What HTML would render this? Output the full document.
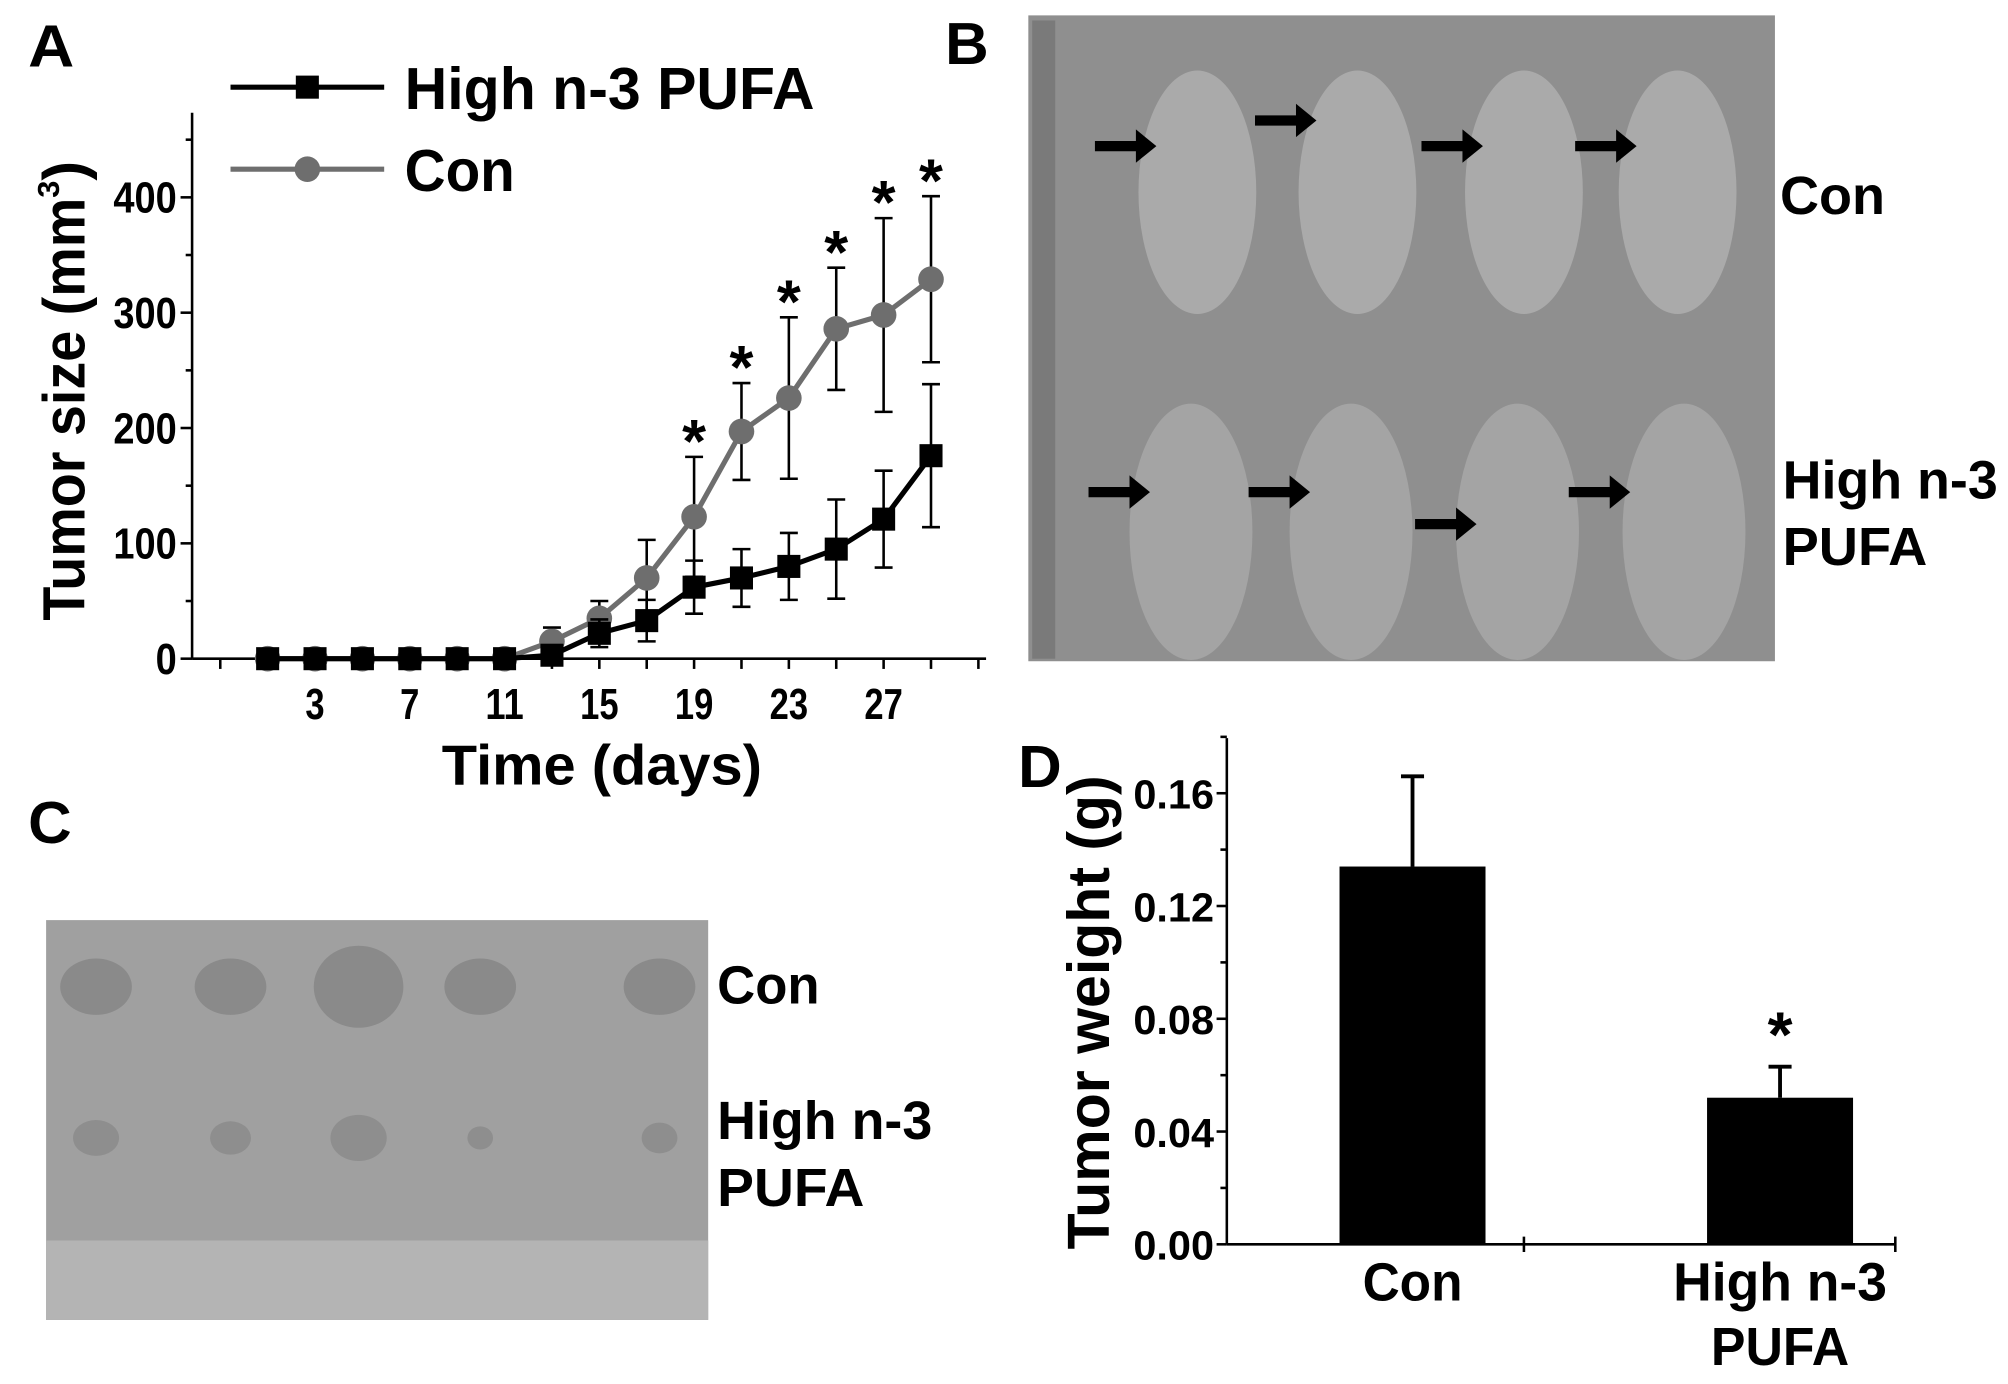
<!DOCTYPE html>
<html><head><meta charset="utf-8"><style>
html,body{margin:0;padding:0;background:#fff;}
svg{display:block;}
text{font-family:"Liberation Sans Narrow","Liberation Sans",sans-serif;font-weight:bold;fill:#000;}
</style></head><body>
<svg id="fig" width="2008" height="1384" viewBox="0 0 1568 1080" preserveAspectRatio="none" xmlns="http://www.w3.org/2000/svg">
<g id="panelA"></g>
<g id="panelB">
  <rect x="803" y="12" width="583" height="504" fill="#8f8f8f"/>
  <rect x="806" y="16" width="18" height="498" fill="#7a7a7a"/>
</g>
<g id="panelC">
  <rect x="36" y="718" width="517" height="312" fill="#a0a0a0"/>
  <rect x="36" y="968" width="517" height="62" fill="#b4b4b4"/>
</g>
<g id="panelD"></g>
<text x="22" y="52" font-size="46" textLength="36" lengthAdjust="spacingAndGlyphs">A</text>
<text x="738" y="50" font-size="46" textLength="34" lengthAdjust="spacingAndGlyphs">B</text>
<text x="22" y="658" font-size="46" textLength="34" lengthAdjust="spacingAndGlyphs">C</text>
<text x="795" y="614" font-size="46" textLength="34" lengthAdjust="spacingAndGlyphs">D</text>
<text x="1390" y="167" font-size="42" textLength="82" lengthAdjust="spacingAndGlyphs">Con</text>
<text x="1392" y="389" font-size="42" textLength="168" lengthAdjust="spacingAndGlyphs">High n-3</text>
<text x="1392" y="441" font-size="42" textLength="113" lengthAdjust="spacingAndGlyphs">PUFA</text>
<text x="560" y="783" font-size="42" textLength="80" lengthAdjust="spacingAndGlyphs">Con</text>
<text x="560" y="889" font-size="42" textLength="168" lengthAdjust="spacingAndGlyphs">High n-3</text>
<text x="560" y="941" font-size="42" textLength="115" lengthAdjust="spacingAndGlyphs">PUFA</text>
</svg>
<script>
// ---- Panel A data ----
const days = [1,3,5,7,9,11,13,15,17,19,21,23,25,27,29];
const conValues = [0,0,0,0,0,0,15,35,70,123,197,226,286,298,329];
const conErrors = [0,0,0,0,0,0,12,15,33,52,42,70,53,84,72];
const highValues = [0,0,0,0,0,0,3,22,33,62,70,80,95,121,176];
const highErrors = [0,0,0,0,0,0,5,12,18,23,25,29,43,42,62];
const starDays = [19,21,23,25,27,29];
const xTickLabels = [3,7,11,15,19,23,27];
const yTickLabels = [0,100,200,300,400];
// ---- Panel D data ----
const barCategories = ["Con","High n-3 PUFA"];
const barValues = [0.134,0.052];
const barErrors = [0.032,0.011];
const barTicks = [0.00,0.04,0.08,0.12,0.16];

const NS="http://www.w3.org/2000/svg";
function mk(parent,tag,attrs,txt){const e=document.createElementNS(NS,tag);for(const k in attrs)e.setAttribute(k,attrs[k]);if(txt!==undefined)e.textContent=txt;parent.appendChild(e);return e;}
const LA='spacingAndGlyphs';

// Panel A
const A=document.getElementById('panelA');
const xA=d=>246+(d-3)*18.5;
const yA=v=>514-v*0.9;
let e;
e=mk(A,'line',{x1:150,y1:88,x2:150,y2:514,stroke:'#000','stroke-width':2});
 
e=mk(A,'line',{x1:150,y1:514,x2:770,y2:514,stroke:'#000','stroke-width':2});
 
for(let d=-1;d<=31;d+=2){e=mk(A,'line',{x1:xA(d),y1:514,x2:xA(d),y2:522,stroke:'#000','stroke-width':2});
 }
for(let v=0;v<=450;v+=50){e=mk(A,'line',{x1:150,y1:yA(v),x2:v%100==0?141:145,y2:yA(v),stroke:'#000','stroke-width':2});
 }
xTickLabels.forEach(t=>{const s=String(t);e=mk(A,'text',{x:xA(t),y:561,'font-size':34,'text-anchor':'middle',textLength:s.length*15,lengthAdjust:LA},s);
 });
yTickLabels.forEach(t=>{const s=String(t);e=mk(A,'text',{x:138,y:yA(t)+12,'font-size':34,'text-anchor':'end',textLength:s.length*16.5,lengthAdjust:LA},s);
 });
e=mk(A,'text',{x:470,y:612,'font-size':44,'text-anchor':'middle',textLength:250,lengthAdjust:LA},'Time (days)');
 
e=mk(A,'text',{x:0,y:0,'font-size':46,'text-anchor':'middle',transform:'translate(66,305) rotate(-90)'});
 
e.innerHTML='<tspan textLength="330" lengthAdjust="spacingAndGlyphs">Tumor size (mm</tspan><tspan dy="-20" font-size="24">3</tspan><tspan dy="20">)</tspan>';
function series(vals,errs,color,shape,name){
  const g=mk(A,'g',{});
   
  days.forEach((d,i)=>{if(errs[i]>0){const x=xA(d),y1=yA(vals[i]+errs[i]),y2=yA(vals[i]-errs[i]);
    e=mk(g,'path',{d:`M${x},${y1}V${y2}M${x-7},${y1}H${x+7}M${x-7},${y2}H${x+7}`,stroke:'#000','stroke-width':2,fill:'none'});
     }});
  e=mk(g,'polyline',{points:days.map((d,i)=>xA(d)+','+yA(vals[i])).join(' '),stroke:color,'stroke-width':4,fill:'none'});
   
  days.forEach((d,i)=>{
    if(shape==='sq') e=mk(g,'rect',{x:xA(d)-9,y:yA(vals[i])-9,width:18,height:18,fill:color});
    else e=mk(g,'circle',{cx:xA(d),cy:yA(vals[i]),r:10,fill:color});
     });
}
series(conValues,conErrors,'#6e6e6e','ci','con-series');
series(highValues,highErrors,'#000','sq','high-n3-series');
starDays.forEach(d=>{const i=days.indexOf(d);
  e=mk(A,'text',{x:xA(d),y:yA(conValues[i]+conErrors[i])+4,'font-size':48,'text-anchor':'middle'},'*');
   });
// legend
e=mk(A,'line',{x1:180,y1:68,x2:300,y2:68,stroke:'#000','stroke-width':4});
 
e=mk(A,'rect',{x:231,y:59,width:18,height:18,fill:'#000'});
 
e=mk(A,'text',{x:316,y:85,'font-size':46,textLength:320,lengthAdjust:LA},'High n-3 PUFA');
 
e=mk(A,'line',{x1:180,y1:132,x2:300,y2:132,stroke:'#6e6e6e','stroke-width':4});
 
e=mk(A,'circle',{cx:240,cy:132,r:10,fill:'#6e6e6e'});
 
e=mk(A,'text',{x:316,y:149,'font-size':46,textLength:86,lengthAdjust:LA},'Con');
 

// Panel B mice (decorative)
const B=document.getElementById('panelB');
const miceX=[935,1060,1190,1310];
miceX.forEach((x,i)=>{
  e=mk(B,'ellipse',{cx:x,cy:150,rx:46,ry:95,fill:'#aaaaaa'});
   
  e=mk(B,'ellipse',{cx:x-5+(i==3?10:0),cy:415,rx:48,ry:100,fill:'#a4a4a4'});
   
  [[x-80,110+(i==1?-20:0)],[x-85,380+(i==2?25:0)]].forEach(p=>{
    e=mk(B,'path',{d:`M${p[0]},${p[1]}h32v-9l16,13l-16,13v-9h-32z`,fill:'#000'});
     });
});
// Panel C tumors
const C=document.getElementById('panelC');
[75,180,280,375,515].forEach((x,i)=>{
  e=mk(C,'ellipse',{cx:x,cy:770,rx:i==2?35:28,ry:i==2?32:22,fill:'#8a8a8a'});
   
  e=mk(C,'ellipse',{cx:x,cy:888,rx:[18,16,22,10,14][i],ry:[14,13,18,9,12][i],fill:'#8e8e8e'});
   
});

// Panel D
const D=document.getElementById('panelD');
const yD=v=>971-v*2200;
const xD=[1103,1390];
e=mk(D,'line',{x1:958,y1:576,x2:958,y2:971,stroke:'#000','stroke-width':2});
 
e=mk(D,'line',{x1:958,y1:971,x2:1480,y2:971,stroke:'#000','stroke-width':2});
 
[1190,1480].forEach(x=>{e=mk(D,'line',{x1:x,y1:965,x2:x,y2:977,stroke:'#000','stroke-width':2});
 });
for(let k=0;k<=9;k++){const v=k*0.02;e=mk(D,'line',{x1:958,y1:yD(v),x2:k%2==0?950:953,y2:yD(v),stroke:'#000','stroke-width':2});
 }
barTicks.forEach(t=>{e=mk(D,'text',{x:948,y:yD(t)+12,'font-size':32,'text-anchor':'end',textLength:63,lengthAdjust:LA},t.toFixed(2));
 });
e=mk(D,'text',{x:0,y:0,'font-size':46,'text-anchor':'middle',transform:'translate(866,790) rotate(-90)',textLength:370,lengthAdjust:LA},'Tumor weight (g)');
 
barCategories.forEach((c,i)=>{
  const x=xD[i];
  e=mk(D,'path',{d:`M${x},${yD(barValues[i])}V${yD(barValues[i]+barErrors[i])}M${x-9},${yD(barValues[i]+barErrors[i])}H${x+9}`,stroke:'#000','stroke-width':3});
   
  e=mk(D,'rect',{x:x-57,y:yD(barValues[i]),width:114,height:971-yD(barValues[i]),fill:'#000'});
   
  const words=c==='Con'?['Con']:['High n-3','PUFA'];
  const widths={'Con':78,'High n-3':167,'PUFA':108};
  words.forEach((w,j)=>{e=mk(D,'text',{x:x,y:1015+j*50,'font-size':42,'text-anchor':'middle',textLength:widths[w],lengthAdjust:LA},w);
   });
});
e=mk(D,'text',{x:xD[1],y:yD(barValues[1]+barErrors[1])-8,'font-size':50,'text-anchor':'middle'},'*');
 
</script>
</body></html>
